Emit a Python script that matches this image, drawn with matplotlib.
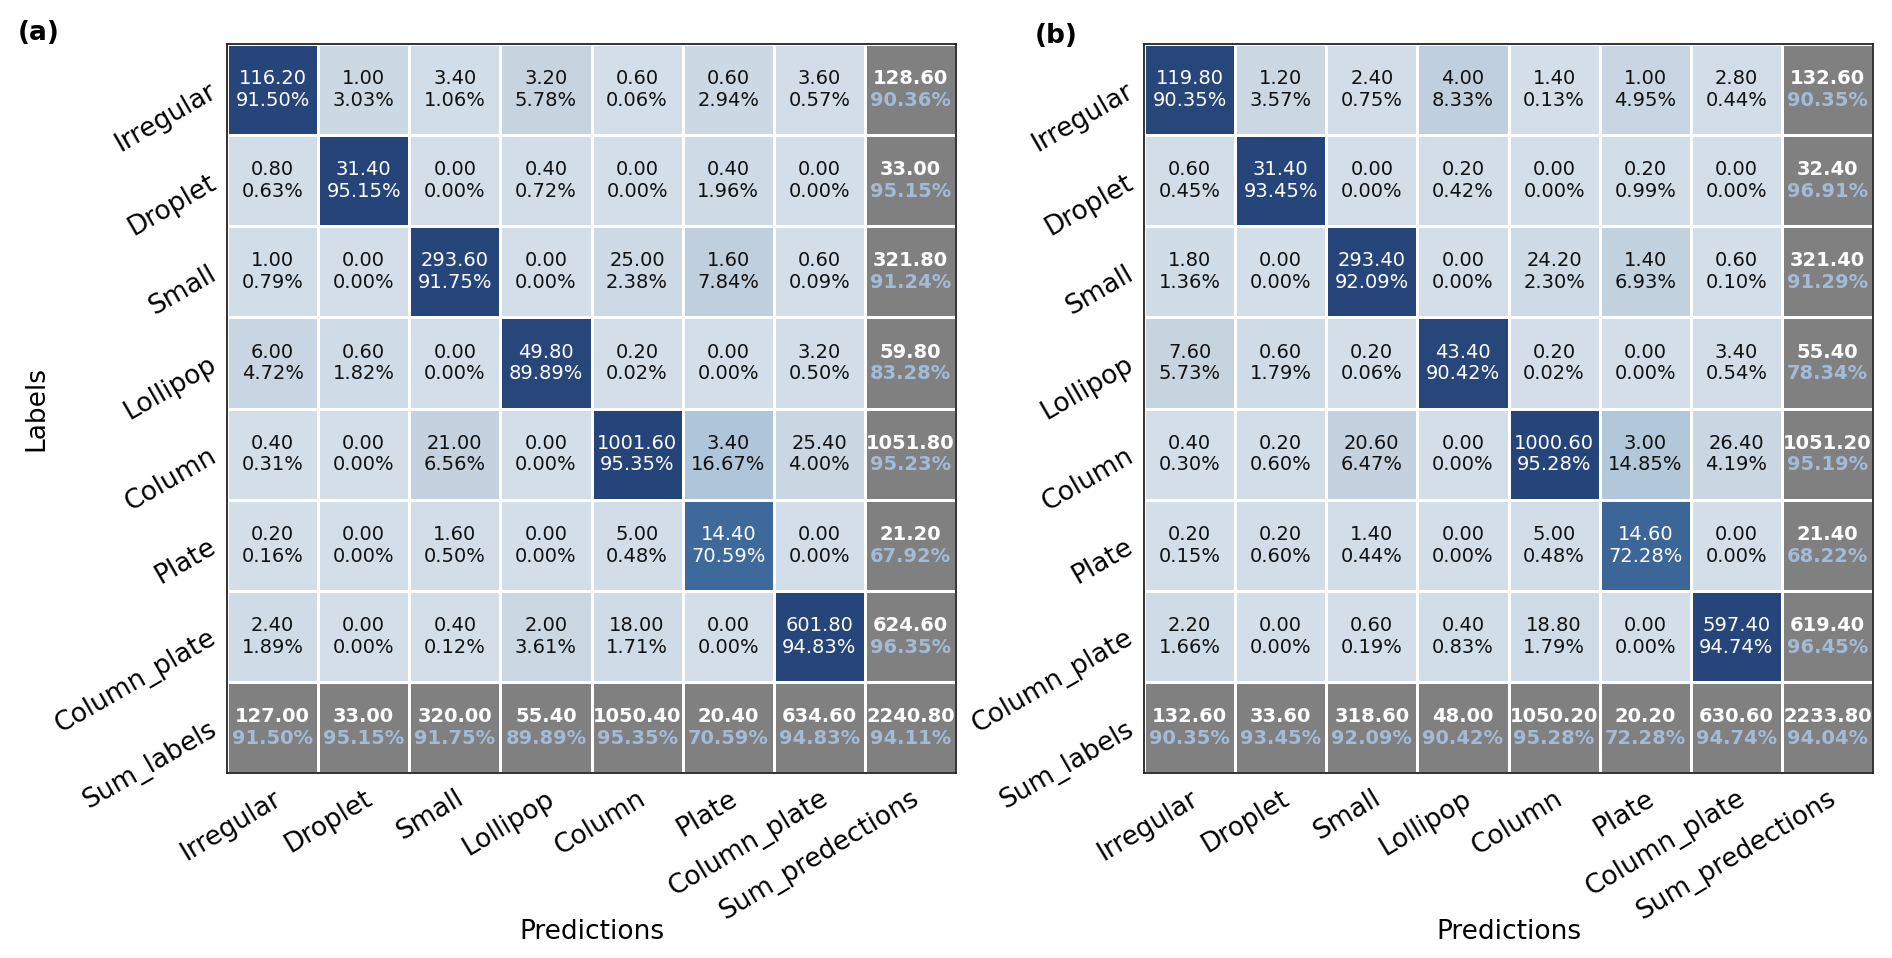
import numpy as np
import matplotlib
matplotlib.use("Agg")
import matplotlib.pyplot as plt
from matplotlib.colors import LinearSegmentedColormap

classes = ["Irregular", "Droplet", "Small", "Lollipop", "Column", "Plate", "Column_plate"]
row_names = classes + ["Sum_labels"]
col_names = classes + ["Sum_predections"]

# rows = labels, columns = predictions
counts_a = [
    [116.2, 1.0, 3.4, 3.2, 0.6, 0.6, 3.6],
    [0.8, 31.4, 0.0, 0.4, 0.0, 0.4, 0.0],
    [1.0, 0.0, 293.6, 0.0, 25.0, 1.6, 0.6],
    [6.0, 0.6, 0.0, 49.8, 0.2, 0.0, 3.2],
    [0.4, 0.0, 21.0, 0.0, 1001.6, 3.4, 25.4],
    [0.2, 0.0, 1.6, 0.0, 5.0, 14.4, 0.0],
    [2.4, 0.0, 0.4, 2.0, 18.0, 0.0, 601.8],
]
counts_b = [
    [119.8, 1.2, 2.4, 4.0, 1.4, 1.0, 2.8],
    [0.6, 31.4, 0.0, 0.2, 0.0, 0.2, 0.0],
    [1.8, 0.0, 293.4, 0.0, 24.2, 1.4, 0.6],
    [7.6, 0.6, 0.2, 43.4, 0.2, 0.0, 3.4],
    [0.4, 0.2, 20.6, 0.0, 1000.6, 3.0, 26.4],
    [0.2, 0.2, 1.4, 0.0, 5.0, 14.6, 0.0],
    [2.2, 0.0, 0.6, 0.4, 18.8, 0.0, 597.4],
]

cmap = LinearSegmentedColormap.from_list(
    "cm", [(0.0, "#d3dee8"), (0.08, "#c0cfdd"), (0.17, "#aec4d9"),
           (0.70, "#3e6b9b"), (0.90, "#27477b"), (1.0, "#24437a")])
cmap.set_bad("#808080")

fig = plt.figure(figsize=(18.92, 9.58), dpi=100)
ax_a = fig.add_axes([0.11998, 0.19311, 0.38531, 0.76096])
ax_b = fig.add_axes([0.60465, 0.19311, 0.38531, 0.76096])

DY = 0.12


def draw_cm(ax, counts, ylabel=True):
    c = np.array(counts)
    n = c.shape[0]
    col_sum = c.sum(axis=0)
    row_sum = c.sum(axis=1)
    diag = np.diag(c)
    pct = c / col_sum

    grid = np.full((n + 1, n + 1), np.nan)
    grid[:n, :n] = pct
    ax.pcolormesh(np.ma.masked_invalid(grid), cmap=cmap, vmin=0, vmax=1,
                  edgecolors="white", linewidth=1.0)
    ax.set_xlim(0, n + 1)
    ax.set_ylim(n + 1, 0)

    for i in range(n):
        for j in range(n):
            col = "white" if pct[i, j] > 0.5 else "#111111"
            ax.text(j + 0.5, i + 0.5 - DY, f"{c[i, j]:.2f}", ha="center",
                    va="center", color=col, fontsize=14)
            ax.text(j + 0.5, i + 0.5 + DY, f"{pct[i, j] * 100:.2f}%",
                    ha="center", va="center", color=col, fontsize=14)

    sums_tot = [(n, j, col_sum[j], diag[j] / col_sum[j]) for j in range(n)]
    sums_tot += [(i, n, row_sum[i], diag[i] / row_sum[i]) for i in range(n)]
    sums_tot += [(n, n, c.sum(), diag.sum() / c.sum())]
    for i, j, s, p in sums_tot:
        ax.text(j + 0.5, i + 0.5 - DY, f"{s:.2f}", ha="center", va="center",
                color="white", fontsize=14, fontweight="bold")
        ax.text(j + 0.5, i + 0.5 + DY, f"{p * 100:.2f}%", ha="center",
                va="center", color="#a3bbd6", fontsize=14, fontweight="bold")

    ax.set_xticks(np.arange(n + 1) + 0.5)
    ax.set_yticks(np.arange(n + 1) + 0.5)
    ax.set_xticklabels(col_names, rotation=31, ha="right", va="top",
                       rotation_mode="anchor", fontsize=19)
    ax.set_yticklabels(row_names, rotation=30, ha="right", va="center",
                       rotation_mode="anchor", fontsize=19)
    ax.tick_params(length=0, pad=9)
    for s in ax.spines.values():
        s.set_color("#222222")
        s.set_linewidth(1.3)
    ax.set_xlabel("Predictions", fontsize=19)
    ax.xaxis.set_label_coords(0.5, -0.2)
    if ylabel:
        ax.set_ylabel("Labels", fontsize=19)
        ax.yaxis.set_label_coords(-0.244, 0.5)


draw_cm(ax_a, counts_a)
draw_cm(ax_b, counts_b, ylabel=False)

fig.text(0.0095, 0.979, "(a)", fontsize=19, fontweight="bold", va="top", ha="left")
fig.text(0.547, 0.976, "(b)", fontsize=19, fontweight="bold", va="top", ha="left")

fig.savefig("out.png", dpi=100)
